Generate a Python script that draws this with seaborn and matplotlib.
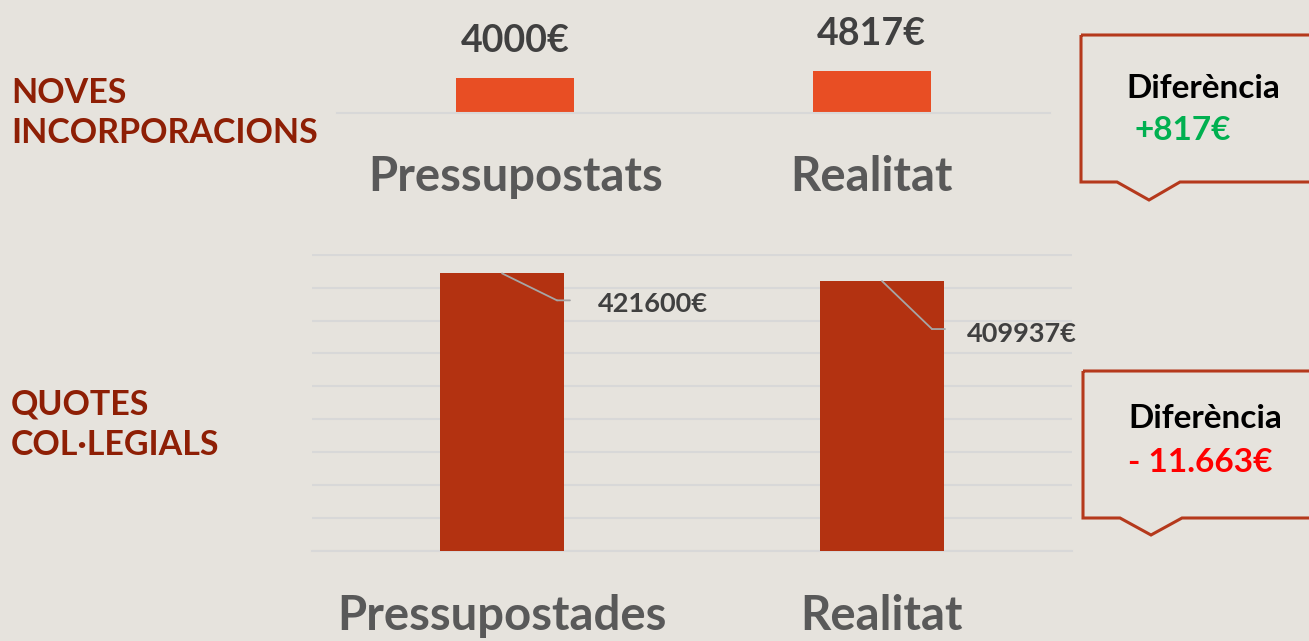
import matplotlib
matplotlib.use("Agg")
import matplotlib.pyplot as plt
import seaborn as sns
import pandas as pd
from matplotlib.patches import Polygon
from matplotlib.transforms import offset_copy

# ---- data ----
top_categories = ["Pressupostats", "Realitat"]
top_values = [4000, 4817]
top_labels = ["4000€", "4817€"]

bottom_categories = ["Pressupostades", "Realitat"]
bottom_values = [421600, 409937]
bottom_labels = ["421600€", "409937€"]

section_titles = ["NOVES\nINCORPORACIONS", "QUOTES\nCOL·LEGIALS"]
diff_titles = ["Diferència", "Diferència"]
diff_values = ["+817€", "- 11.663€"]

# ---- style ----
sns.set_theme(style="white")
plt.rcParams['font.family'] = ['Lato', 'DejaVu Sans']

BG = "#e6e3dd"
TOP_BAR = "#e84e24"
BOT_BAR = "#b33211"
GRID = "#d8d8d8"
CAT_GRAY = "#595959"
VAL_GRAY = "#404040"
TITLE_RED = "#8e1f05"
BOX_RED = "#b5391c"

W, H = 1309, 641
fig = plt.figure(figsize=(W / 100, H / 100), dpi=100, facecolor=BG)


def fx(px):
    return px / W


def fy(py):
    return 1 - py / H


# ---- top chart ----
ax1 = fig.add_axes([fx(337), fy(113), fx(1050 - 337), 113 / H])
ax1.set_facecolor("none")
df_top = pd.DataFrame({"cat": top_categories, "val": top_values})
sns.barplot(data=df_top, x="cat", y="val", color=TOP_BAR, width=0.33,
            saturation=1, linewidth=0, edgecolor="none", ax=ax1)
ax1.set_ylim(0, 13000)
ax1.set_xlim(-0.5, 1.5)
ax1.set_xlabel("")
ax1.set_ylabel("")
ax1.set_yticks([])
for s in ["top", "right", "left"]:
    ax1.spines[s].set_visible(False)
ax1.spines["bottom"].set_color(GRID)
ax1.spines["bottom"].set_linewidth(1.5)
ax1.tick_params(axis="x", length=0, pad=30, labelsize=34, labelcolor=CAT_GRAY)
for t in ax1.get_xticklabels():
    t.set_fontweight("bold")
for i, (v, lab) in enumerate(zip(top_values, top_labels)):
    ax1.annotate(lab, xy=(i, v), xytext=(0, 37), textcoords="offset pixels",
                 ha="center", va="center", fontsize=27, fontweight="bold",
                 color=VAL_GRAY)

# ---- bottom chart ----
ax2 = fig.add_axes([fx(312), fy(551), fx(1072 - 312), (551 - 254) / H])
ax2.set_facecolor("none")
df_bot = pd.DataFrame({"cat": bottom_categories, "val": bottom_values})
sns.barplot(data=df_bot, x="cat", y="val", color=BOT_BAR, width=0.326,
            saturation=1, linewidth=0, edgecolor="none", ax=ax2, zorder=3)
ax2.set_ylim(0, 451000)
ax2.set_xlim(-0.5, 1.5)
ax2.set_yticks(range(0, 450001, 50000))
ax2.set_yticklabels([])
ax2.grid(axis="y", color=GRID, linewidth=1.5, zorder=0)
ax2.set_axisbelow(True)
ax2.set_xlabel("")
ax2.set_ylabel("")
for s in ["top", "right", "left"]:
    ax2.spines[s].set_visible(False)
ax2.spines["bottom"].set_color(GRID)
ax2.spines["bottom"].set_linewidth(1.5)
ax2.tick_params(axis="y", length=0)
ax2.tick_params(axis="x", length=0, pad=31, labelsize=34, labelcolor=CAT_GRAY)
for t in ax2.get_xticklabels():
    t.set_fontweight("bold")

# leader lines + labels (offsets in pixels relative to the bar top)
leader = [(55, -27, 96, -31), (50, -48, 85, -53)]
for i, (v, lab) in enumerate(zip(bottom_values, bottom_labels)):
    cx, cy, tx, ty = leader[i]
    ax2.annotate("", xy=(i, v), xytext=(cx, cy), textcoords="offset pixels",
                 arrowprops=dict(arrowstyle="-", color="#a6a6a6", lw=1.3,
                                 shrinkA=0, shrinkB=0), zorder=5)
    tr = offset_copy(ax2.transData, fig=fig, x=cx, y=cy, units="dots")
    ax2.annotate("", xy=(i, v), xycoords=tr, xytext=(13, 0),
                 textcoords="offset pixels",
                 arrowprops=dict(arrowstyle="-", color="#a6a6a6", lw=1.3,
                                 shrinkA=0, shrinkB=0), zorder=5)
    ax2.annotate(lab, xy=(i, v), xytext=(tx, ty), textcoords="offset pixels",
                 ha="left", va="center", fontsize=19.5, fontweight="bold",
                 color=VAL_GRAY)

# ---- section titles ----
fig.text(fx(11), fy(113), section_titles[0], ha="left", va="center",
         fontsize=24.5, fontweight="bold", color=TITLE_RED, linespacing=1.32)
fig.text(fx(11), fy(425), section_titles[1], ha="left", va="center",
         fontsize=24.5, fontweight="bold", color=TITLE_RED, linespacing=1.32)


# ---- callout boxes ----
def callout(left, top, bottom, n1, tip_x, tip_y, n2, right=1320):
    pts = [(left, top), (right, top), (right, bottom), (n2, bottom),
           (tip_x, tip_y), (n1, bottom), (left, bottom)]
    poly = Polygon([(fx(x), fy(y)) for x, y in pts], closed=True,
                   transform=fig.transFigure, facecolor="none",
                   edgecolor=BOX_RED, linewidth=2.2, clip_on=False)
    fig.patches.append(poly)


callout(1081, 35, 182, 1117, 1149, 200, 1180)
callout(1083, 371, 518, 1120, 1151, 535, 1182)

fig.text(fx(1203), fy(88), diff_titles[0], ha="center", va="center",
         fontsize=24, fontweight="bold", color="black")
fig.text(fx(1135), fy(131), diff_values[0], ha="left", va="center",
         fontsize=24, fontweight="bold", color="#00b050")
fig.text(fx(1205), fy(418), diff_titles[1], ha="center", va="center",
         fontsize=24, fontweight="bold", color="black")
fig.text(fx(1200), fy(462), diff_values[1], ha="center", va="center",
         fontsize=24, fontweight="bold", color="#ff0000")

fig.savefig("out.png", dpi=100, facecolor=BG)
